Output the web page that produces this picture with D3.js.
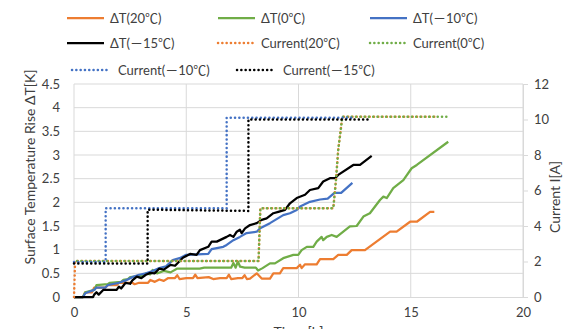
<!DOCTYPE html>
<html>
<head>
<meta charset="utf-8">
<script src="https://cdn.jsdelivr.net/npm/d3@7"></script>
<style>
  body { margin: 0; background: #fff; }
  text { font-family: "Lato", "Noto Sans CJK JP", sans-serif; fill: #404040; }
</style>
</head>
<body>
<svg id="chart" width="565" height="329"></svg>
<script>
// series names (legend order)
var seriesNames = ["ΔT(20℃)", "ΔT(0℃)", "ΔT(－10℃)", "ΔT(－15℃)",
                   "Current(20℃)", "Current(0℃)", "Current(－10℃)", "Current(－15℃)"];

var xTicks = [0, 5, 10, 15, 20];
var leftTicks = [0, 0.5, 1, 1.5, 2, 2.5, 3, 3.5, 4, 4.5];
var rightTicks = [0, 2, 4, 6, 8, 10, 12];

// surface temperature rise [K] vs time [h]
var dT20 = [[0,0],[0.4,0],[0.5,0.1],[0.8,0.1],[0.9,0.2],[1.4,0.2],[1.5,0.25],[1.9,0.25],[2.0,0.3],[2.6,0.3],[2.7,0.27],
  [2.9,0.3],[3.3,0.3],[3.4,0.36],[3.6,0.32],[3.8,0.37],[4.0,0.34],[4.2,0.4],[4.5,0.4],[4.6,0.46],[4.7,0.38],[5.0,0.4],
  [5.3,0.4],[5.4,0.47],[5.5,0.4],[6.0,0.42],[6.2,0.38],[6.5,0.4],[6.8,0.4],[6.9,0.47],[7.0,0.38],[7.3,0.4],[7.5,0.4],
  [7.6,0.46],[7.7,0.38],[7.84,0.39],[8.14,0.5],[8.36,0.39],[8.73,0.39],[8.88,0.5],[9.17,0.5],[9.32,0.61],[9.92,0.61],
  [10.07,0.68],[10.14,0.61],[10.29,0.69],[10.81,0.69],[10.96,0.8],[11.55,0.8],[11.77,0.89],[12.15,0.89],[12.37,0.99],
  [12.96,0.99],[14.08,1.38],[14.37,1.38],[14.97,1.59],[15.27,1.59],[15.86,1.8],[16.05,1.8]];
var dT0 = [[0,0],[0.4,0],[0.5,0.1],[0.9,0.15],[1.0,0.25],[1.5,0.27],[1.6,0.3],[2.1,0.32],[2.2,0.36],[2.4,0.38],[2.5,0.42],
  [3.1,0.45],[3.2,0.5],[3.4,0.48],[3.5,0.57],[3.7,0.5],[4.0,0.55],[4.3,0.52],[4.6,0.6],[5.6,0.6],[5.8,0.62],[7.0,0.62],
  [7.1,0.72],[7.2,0.62],[7.3,0.75],[7.4,0.64],[7.6,0.62],[8.1,0.62],[8.2,0.56],[8.4,0.61],[8.73,0.71],[8.95,0.71],
  [9.32,0.82],[9.77,0.89],[9.99,0.89],[10.14,0.99],[10.37,1.06],[10.66,1.06],[10.81,1.17],[11.03,1.27],[11.1,1.2],
  [11.26,1.27],[11.48,1.31],[11.7,1.27],[12.29,1.49],[12.59,1.5],[12.89,1.7],[13.18,1.77],[13.63,2.05],[13.78,2.12],
  [13.93,2.09],[14.22,2.3],[14.67,2.47],[15.04,2.72],[15.27,2.79],[16.67,3.28]];
var dTm10 = [[0,0],[0.4,0],[0.5,0.08],[0.9,0.15],[1.0,0.2],[1.4,0.2],[1.5,0.25],[1.8,0.28],[2.0,0.3],[2.3,0.35],[2.6,0.42],
  [2.9,0.47],[3.2,0.5],[3.5,0.55],[3.8,0.61],[4.1,0.65],[4.4,0.78],[4.7,0.82],[5.0,0.89],[5.98,0.91],[6.13,1.01],
  [6.65,1.06],[6.8,1.1],[7.1,1.2],[7.39,1.27],[7.69,1.35],[8.14,1.38],[8.29,1.45],[8.73,1.56],[9.32,1.73],[9.62,1.77],
  [9.92,1.84],[10.07,1.91],[10.51,2.01],[10.96,2.06],[11.3,2.08],[11.6,2.2],[11.9,2.2],[12.4,2.41]];
var dTm15 = [[0,0],[0.85,0],[0.9,0.05],[1.0,0.1],[1.1,0.05],[1.3,0.15],[1.9,0.15],[2.0,0.22],[2.1,0.18],[2.3,0.3],
  [2.5,0.28],[2.6,0.35],[2.8,0.43],[3.0,0.4],[3.2,0.47],[3.4,0.51],[3.6,0.5],[3.8,0.6],[4.0,0.58],[4.3,0.68],[4.5,0.66],
  [4.85,0.83],[5.17,0.91],[5.46,0.89],[5.61,0.99],[5.98,1.06],[6.13,1.17],[6.36,1.17],[6.8,1.27],[6.95,1.31],[7.1,1.27],
  [7.25,1.38],[7.39,1.42],[7.47,1.35],[7.62,1.45],[7.84,1.52],[8.14,1.56],[8.36,1.63],[8.58,1.66],[8.88,1.77],[9.1,1.8],
  [9.4,1.84],[9.62,1.98],[9.92,2.09],[10.29,2.16],[10.51,2.26],[10.88,2.3],[11.1,2.44],[11.4,2.51],[11.63,2.51],
  [11.77,2.58],[12.44,2.79],[12.74,2.79],[13.26,2.98]];

// current [A] vs time [h]
var cur20 = [[0,0],[0.05,2.03],[8.22,2.03],[8.3,5.0],[11.55,5.0],[11.67,6.6],[11.77,8.3],[11.88,9.4],[11.95,10.15],[16.1,10.15]];
var cur0 = [[0,2.03],[8.22,2.03],[8.3,5.0],[11.55,5.0],[11.67,6.6],[11.77,8.3],[11.88,9.4],[11.95,10.15],[16.6,10.15]];
var curM10 = [[0,1.97],[1.41,1.97],[1.41,5.0],[6.8,5.0],[6.8,10.1],[12.4,10.1]];
var curM15 = [[0,1.89],[3.28,1.89],[3.28,4.92],[7.77,4.85],[7.77,10.0],[13.1,10.0]];

var colors = ["#ED7D31", "#70AD47", "#4472C4", "#000000"];

var svg = d3.select("#chart");
var margin = { top: 84, right: 42, bottom: 32, left: 74 };
var width = 565 - margin.left - margin.right;
var height = 329 - margin.top - margin.bottom;

var xScale = d3.scaleLinear().domain([0, 20]).range([margin.left, margin.left + width]);
var yLeft = d3.scaleLinear().domain([0, 4.5]).range([margin.top + height, margin.top]);
var yRight = d3.scaleLinear().domain([0, 12]).range([margin.top + height, margin.top]);

// gridlines
svg.append("g")
    .selectAll("line.h")
    .data(leftTicks.slice(1))
    .enter().append("line")
    .attr("x1", margin.left).attr("x2", margin.left + width)
    .attr("y1", d => yLeft(d)).attr("y2", d => yLeft(d))
    .attr("stroke", "#d9d9d9").attr("stroke-width", 1);

svg.append("g")
    .selectAll("line.v")
    .data(xTicks)
    .enter().append("line")
    .attr("x1", d => xScale(d)).attr("x2", d => xScale(d))
    .attr("y1", margin.top).attr("y2", margin.top + height)
    .attr("stroke", "#d9d9d9").attr("stroke-width", 1);

// bottom axis
svg.append("g")
    .attr("transform", `translate(0,${margin.top + height})`)
    .call(d3.axisBottom(xScale).tickValues(xTicks).tickSize(0).tickPadding(11))
    .call(g => g.select(".domain").attr("stroke", "#d9d9d9"))
    .call(g => g.selectAll("text").attr("font-size", 13).attr("fill", "#404040"));

// left axis
svg.append("g")
    .attr("transform", `translate(${margin.left},0)`)
    .call(d3.axisLeft(yLeft).tickValues(leftTicks).tickFormat(d => String(d)).tickSize(0).tickPadding(14))
    .call(g => g.select(".domain").remove())
    .call(g => g.selectAll("text").attr("font-size", 13).attr("fill", "#404040"));

// right axis
svg.append("g")
    .attr("transform", `translate(${margin.left + width},0)`)
    .call(d3.axisRight(yRight).tickValues(rightTicks).tickSize(5).tickPadding(6))
    .call(g => g.select(".domain").attr("stroke", "#d9d9d9"))
    .call(g => g.selectAll(".tick line").attr("stroke", "#d9d9d9"))
    .call(g => g.selectAll("text").attr("font-size", 13).attr("fill", "#404040"));

// axis titles
svg.append("text")
    .attr("transform", "translate(35,167) rotate(-90)")
    .attr("text-anchor", "middle")
    .attr("font-size", 14)
    .text("Surface Temperature Rise ΔT[K]");

svg.append("text")
    .attr("transform", "translate(560,197) rotate(-90)")
    .attr("text-anchor", "middle")
    .attr("font-size", 14)
    .text("Current  I[A]");

// x title sits mostly below the picture edge, as in the reference
svg.append("text")
    .attr("x", xScale(10)).attr("y", 337)
    .attr("text-anchor", "middle")
    .attr("font-size", 14)
    .text("Time [h]");

// lines
var lineL = d3.line().x(d => xScale(d[0])).y(d => yLeft(d[1]));
var lineR = d3.line().x(d => xScale(d[0])).y(d => yRight(d[1]));

[dT20, dT0, dTm10, dTm15].forEach(function (s, i) {
    svg.append("path")
        .datum(s)
        .attr("fill", "none")
        .attr("stroke", colors[i])
        .attr("stroke-width", 2.25)
        .attr("stroke-linejoin", "round")
        .attr("d", lineL);
});

// dotted current lines; green shifted a little so orange peeks out beside it
[cur20, cur0, curM10, curM15].forEach(function (s, i) {
    svg.append("path")
        .datum(s)
        .attr("fill", "none")
        .attr("stroke", colors[i])
        .attr("stroke-width", 2.5)
        .attr("stroke-dasharray", "0.1,4.2")
        .attr("stroke-dashoffset", i == 1 ? 1.3 : 0)
        .attr("stroke-linecap", "round")
        .attr("d", lineR);
});

// legend
var legendPos = [[67, 18], [218, 18], [370, 18], [67, 43], [218, 43], [370, 43], [72, 70], [237, 70]];
var legend = svg.append("g");
seriesNames.forEach(function (name, i) {
    var p = legendPos[i];
    var g = legend.append("g").attr("transform", `translate(${p[0]},${p[1]})`);
    g.append("line")
        .attr("x1", 0).attr("x2", 37)
        .attr("stroke", colors[i % 4])
        .attr("stroke-width", i < 4 ? 2.25 : 2.5)
        .attr("stroke-dasharray", i < 4 ? null : "0.1,4.2")
        .attr("stroke-linecap", i < 4 ? "butt" : "round");
    g.append("text")
        .attr("x", i < 6 ? 43 : 46)
        .attr("y", 0)
        .attr("dy", "0.35em")
        .attr("font-size", 13)
        .text(name);
});
</script>
</body>
</html>
